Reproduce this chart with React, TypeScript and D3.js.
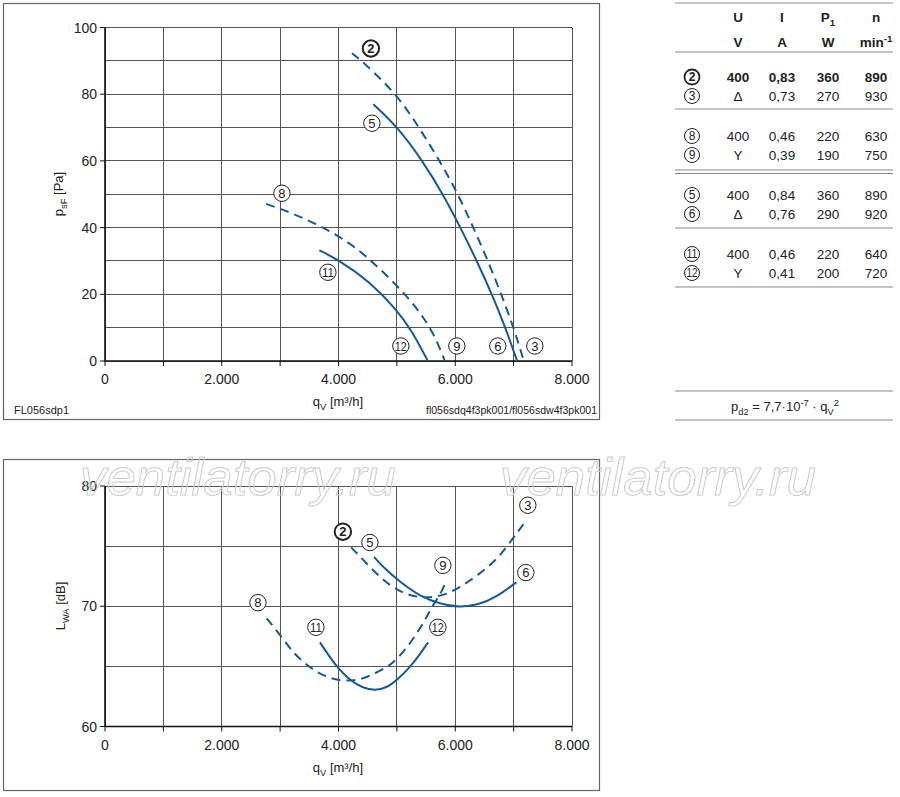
import React, { useRef, useEffect } from "react";
import * as d3 from "d3";

type Pt = [number, number];

// ---------------------------------------------------------------------------
// DATA (flow q_V in m³/h)
// ---------------------------------------------------------------------------
const flowGrid = [0, 1000, 2000, 3000, 4000, 5000, 6000, 7000, 8000];
const flowTicks = [0, 2000, 4000, 6000, 8000];

const pressureGrid = [0, 10, 20, 30, 40, 50, 60, 70, 80, 90, 100];
const pressureTicks = [0, 20, 40, 60, 80, 100];

const soundGrid = [60, 65, 70, 75, 80];
const soundTicks = [60, 70, 80];

// static pressure p_sF [Pa]
const pressure2to3: Pt[] = [
  [4230, 92.3], [4400, 90], [5000, 80], [5380, 70], [5735, 60], [6050, 50],
  [6310, 40], [6560, 30], [6790, 20], [7000, 10], [7175, 0],
];
const pressure5to6: Pt[] = [
  [4595, 77], [5020, 70], [5440, 60], [5790, 50], [6090, 40], [6370, 30],
  [6630, 20], [6860, 10], [7060, 0],
];
const pressure8to9: Pt[] = [
  [2760, 47.1], [3200, 44.4], [3660, 40.8], [4190, 35.5], [4524, 30.6],
  [4855, 25.2], [5188, 19.1], [5454, 13.2], [5656, 7.3], [5822, 0],
];
const pressure11to12: Pt[] = [
  [3672, 33.2], [4011, 30.2], [4524, 24.0], [4990, 15.5], [5255, 9.2], [5530, 0],
];

// sound power L_WA [dB]
const sound2to3: Pt[] = [
  [4217, 74.9], [4491, 73.5], [4753, 72.2], [5016, 71.3], [5278, 70.8],
  [5540, 70.7], [5802, 70.9], [6064, 71.5], [6392, 72.6], [6720, 73.9],
  [6982, 75.6], [7179, 76.9],
];
const sound5to6: Pt[] = [
  [4611, 74.1], [4753, 73.3], [5081, 71.9], [5409, 70.8], [5736, 70.2],
  [6064, 69.9], [6392, 70.1], [6720, 70.8], [7047, 72.0],
];
const sound8to9: Pt[] = [
  [2768, 69.0], [3006, 67.6], [3224, 66.1], [3482, 65.0], [3739, 64.2],
  [4011, 63.8], [4308, 63.8], [4537, 64.2], [4823, 64.9], [5010, 65.6],
  [5274, 67.2], [5502, 69.0], [5605, 70.0], [5759, 71.1], [5835, 72.0],
];
const sound11to12: Pt[] = [
  [3682, 67.0], [3853, 65.75], [4011, 64.75], [4195, 63.85], [4423, 63.18],
  [4623, 63.0], [4823, 63.2], [5010, 63.9], [5221, 64.9], [5392, 66.0],
  [5536, 67.0],
];

interface CurveLabel {
  id: string;
  q: number;
  v: number;
  bold?: boolean;
}

const pressureLabels: CurveLabel[] = [
  { id: "2", q: 4555, v: 93.7, bold: true },
  { id: "5", q: 4572, v: 71.3 },
  { id: "8", q: 3031, v: 50.3 },
  { id: "11", q: 3818, v: 26.6 },
  { id: "12", q: 5068, v: 4.5 },
  { id: "9", q: 6027, v: 4.5 },
  { id: "6", q: 6729, v: 4.5 },
  { id: "3", q: 7363, v: 4.5 },
];
const soundLabels: CurveLabel[] = [
  { id: "2", q: 4075, v: 76.2, bold: true },
  { id: "5", q: 4538, v: 75.3 },
  { id: "8", q: 2620, v: 70.3 },
  { id: "11", q: 3613, v: 68.25 },
  { id: "9", q: 5788, v: 73.4 },
  { id: "12", q: 5702, v: 68.25 },
  { id: "3", q: 7243, v: 78.4 },
  { id: "6", q: 7209, v: 72.8 },
];

// motor data table
const tableIds = ["2", "3", "8", "9", "5", "6", "11", "12"];
const tableU = ["400", "Δ", "400", "Y", "400", "Δ", "400", "Y"];
const tableI = ["0,83", "0,73", "0,46", "0,39", "0,84", "0,76", "0,46", "0,41"];
const tableP1 = ["360", "270", "220", "190", "360", "290", "220", "200"];
const tableN = ["890", "930", "630", "750", "890", "920", "640", "720"];

const FONT = "'Liberation Sans', Arial, Helvetica, sans-serif";
const BLUE = "#15599a";
const GRID = "#555";

type Part = { t: string; sub?: boolean; sup?: boolean };

// text with sub/superscripts using dy shifts
function richText(
  sel: d3.Selection<SVGTextElement, unknown, null, undefined>,
  parts: Part[],
  size: number
) {
  let off = 0;
  parts.forEach((p) => {
    const target = p.sub ? size * 0.3 : p.sup ? -size * 0.4 : 0;
    sel
      .append("tspan")
      .attr("dy", target - off)
      .attr("font-size", p.sub || p.sup ? size * 0.72 : size)
      .text(p.t);
    off = target;
  });
}

export default function App() {
  const svgRef = useRef<SVGSVGElement | null>(null);

  useEffect(() => {
    const svg = d3.select(svgRef.current);
    svg.selectAll("*").remove();
    svg.attr("font-family", FONT);

    const fmt = d3
      .formatLocale({ decimal: ",", thousands: ".", grouping: [3], currency: ["", ""] })
      .format(",");

    const x = d3.scaleLinear().domain([0, 8000]).range([105, 572]);
    const yP = d3.scaleLinear().domain([0, 100]).range([361, 27.5]);
    const yL = d3.scaleLinear().domain([60, 80]).range([726.5, 486]);

    // frames
    svg.append("rect").attr("x", 3.5).attr("y", 3.5).attr("width", 596).attr("height", 416)
      .attr("fill", "none").attr("stroke", "#666").attr("stroke-width", 1.2);
    svg.append("rect").attr("x", 3.5).attr("y", 459.5).attr("width", 596).attr("height", 331)
      .attr("fill", "none").attr("stroke", "#666").attr("stroke-width", 1.2);

    const line = (y: d3.ScaleLinear<number, number>) =>
      d3.line<Pt>().x((d) => x(d[0])).y((d) => y(d[1])).curve(d3.curveBasis);

    function panel(
      y: d3.ScaleLinear<number, number>,
      yGrid: number[],
      yTicks: number[],
      curves: { pts: Pt[]; dashed: boolean }[],
      labels: CurveLabel[]
    ) {
      const g = svg.append("g");
      const [y0, y1] = y.range();
      const grid = g.append("g").attr("stroke", GRID).attr("stroke-width", 1).attr("shape-rendering", "crispEdges");
      flowGrid.forEach((q) =>
        grid.append("line").attr("x1", x(q)).attr("x2", x(q)).attr("y1", y0).attr("y2", y1)
      );
      yGrid.forEach((v) =>
        grid.append("line").attr("x1", x(0)).attr("x2", x(8000)).attr("y1", y(v)).attr("y2", y(v))
      );
      // axes
      const ax = g.append("g").attr("stroke", "#111").attr("stroke-width", 1.6);
      ax.append("line").attr("x1", x(0)).attr("x2", x(0)).attr("y1", y0 + 0.5).attr("y2", y1);
      ax.append("line").attr("x1", x(0)).attr("x2", x(8000)).attr("y1", y0).attr("y2", y0);
      const tk = g.append("g").attr("stroke", "#111").attr("stroke-width", 1);
      flowGrid.forEach((q) =>
        tk.append("line").attr("x1", x(q)).attr("x2", x(q)).attr("y1", y0).attr("y2", y0 + 5)
      );
      yTicks.forEach((v) =>
        tk.append("line").attr("x1", x(0) - 5).attr("x2", x(0)).attr("y1", y(v)).attr("y2", y(v))
      );
      flowTicks.forEach((q) =>
        g.append("text").attr("x", x(q)).attr("y", y0 + 23).attr("text-anchor", "middle")
          .attr("font-size", 14).attr("fill", "#222").text(fmt(q))
      );
      yTicks.forEach((v) =>
        g.append("text").attr("x", x(0) - 8).attr("y", y(v)).attr("dy", "0.36em")
          .attr("text-anchor", "end").attr("font-size", 14).attr("fill", "#222").text(String(v))
      );
      // curves
      curves.forEach((c) =>
        g.append("path").datum(c.pts).attr("fill", "none").attr("stroke", BLUE)
          .attr("stroke-width", 2).attr("stroke-dasharray", c.dashed ? "9,6" : null)
          .attr("d", line(y))
      );
      // circled labels
      labels.forEach((l) => {
        const lg = g.append("g").attr("transform", `translate(${x(l.q)},${y(l.v)})`);
        lg.append("circle").attr("r", 8.2).attr("fill", "white").attr("stroke", "#222")
          .attr("stroke-width", l.bold ? 2 : 1);
        const t = lg.append("text").attr("text-anchor", "middle").attr("dy", "0.36em")
          .attr("font-size", 13).attr("fill", "#222").attr("font-weight", l.bold ? "bold" : "normal")
          .text(l.id);
        if (l.id.length > 1) t.attr("textLength", 12).attr("lengthAdjust", "spacingAndGlyphs");
      });
      return g;
    }

    panel(yP, pressureGrid, pressureTicks, [
      { pts: pressure2to3, dashed: true },
      { pts: pressure5to6, dashed: false },
      { pts: pressure8to9, dashed: true },
      { pts: pressure11to12, dashed: false },
    ], pressureLabels);

    panel(yL, soundGrid, soundTicks, [
      { pts: sound2to3, dashed: true },
      { pts: sound5to6, dashed: false },
      { pts: sound8to9, dashed: true },
      { pts: sound11to12, dashed: false },
    ], soundLabels);

    // axis titles
    const qTitle = (yy: number) =>
      richText(
        svg.append("text").attr("x", 338).attr("y", yy).attr("text-anchor", "middle").attr("fill", "#222"),
        [{ t: "q" }, { t: "V", sub: true }, { t: " [m³/h]" }],
        13
      );
    qTitle(406);
    qTitle(772);

    richText(
      svg.append("text").attr("transform", "translate(63,194) rotate(-90)")
        .attr("text-anchor", "middle").attr("fill", "#222"),
      [{ t: "p" }, { t: "sF", sub: true }, { t: " [Pa]" }],
      13
    );
    richText(
      svg.append("text").attr("transform", "translate(65,606) rotate(-90)")
        .attr("text-anchor", "middle").attr("fill", "#222"),
      [{ t: "L" }, { t: "WA", sub: true }, { t: " [dB]" }],
      13
    );

    svg.append("text").attr("x", 14).attr("y", 414).attr("font-size", 11).attr("fill", "#222")
      .text("FL056sdp1");
    svg.append("text").attr("x", 597).attr("y", 414).attr("font-size", 11).attr("fill", "#222")
      .attr("text-anchor", "end").attr("textLength", 171).attr("lengthAdjust", "spacingAndGlyphs")
      .text("fl056sdq4f3pk001/fl056sdw4f3pk001");

    // -----------------------------------------------------------------------
    // TABLE
    // -----------------------------------------------------------------------
    const tbl = svg.append("g").attr("fill", "#222");
    const colX = [738, 782, 828, 876];
    const hline = (yy: number) =>
      tbl.append("line").attr("x1", 675).attr("x2", 893).attr("y1", yy).attr("y2", yy)
        .attr("stroke", "#888").attr("stroke-width", 1.2);
    [3, 52, 109, 170, 173.5, 228, 287].forEach(hline);

    const head: Part[][] = [[{ t: "U" }], [{ t: "I" }], [{ t: "P" }, { t: "1", sub: true }], [{ t: "n" }]];
    const units: Part[][] = [[{ t: "V" }], [{ t: "A" }], [{ t: "W" }], [{ t: "min" }, { t: "-1", sup: true }]];
    head.forEach((p, i) =>
      richText(tbl.append("text").attr("x", colX[i]).attr("y", 22).attr("text-anchor", "middle")
        .attr("font-weight", "bold"), p, 13.5)
    );
    units.forEach((p, i) =>
      richText(tbl.append("text").attr("x", colX[i]).attr("y", 47).attr("text-anchor", "middle")
        .attr("font-weight", "bold"), p, 13.5)
    );

    tableIds.forEach((id, r) => {
      const yy = 77 + Math.floor(r / 2) * 59 + (r % 2) * 19;
      const bold = r === 0;
      const cg = tbl.append("g").attr("transform", `translate(692,${yy})`);
      cg.append("circle").attr("r", 7.5).attr("fill", "white").attr("stroke", "#222")
        .attr("stroke-width", bold ? 1.8 : 1);
      const ct = cg.append("text").attr("text-anchor", "middle").attr("dy", "0.36em")
        .attr("font-size", 12).attr("font-weight", bold ? "bold" : "normal").text(id);
      if (id.length > 1) ct.attr("textLength", 11).attr("lengthAdjust", "spacingAndGlyphs");
      [tableU[r], tableI[r], tableP1[r], tableN[r]].forEach((val, c) =>
        tbl.append("text").attr("x", colX[c]).attr("y", yy).attr("dy", "0.36em")
          .attr("text-anchor", "middle").attr("font-size", 13.5)
          .attr("font-weight", bold ? "bold" : "normal").text(val)
      );
    });

    // formula
    [391, 420].forEach((yy) =>
      svg.append("line").attr("x1", 675).attr("x2", 893).attr("y1", yy).attr("y2", yy)
        .attr("stroke", "#888").attr("stroke-width", 1.2)
    );
    richText(
      svg.append("text").attr("x", 785).attr("y", 411).attr("text-anchor", "middle").attr("fill", "#222"),
      [
        { t: "p" }, { t: "d2", sub: true }, { t: " = 7,7·10" }, { t: "-7", sup: true },
        { t: " · q" }, { t: "V", sub: true }, { t: "2", sup: true },
      ],
      13
    );

    // watermark
    [80, 500].forEach((wx) =>
      svg.append("text").attr("x", wx).attr("y", 495).attr("font-size", 52)
        .attr("font-style", "italic").attr("fill", "none").attr("stroke", "#cccccc")
        .attr("stroke-width", 1).attr("textLength", 316).attr("lengthAdjust", "spacingAndGlyphs")
        .text("ventilatorry.ru")
    );
  }, []);

  return (
    <svg
      ref={svgRef}
      width={900}
      height={797}
      style={{ position: "absolute", left: 0, top: 0, background: "white" }}
    />
  );
}
